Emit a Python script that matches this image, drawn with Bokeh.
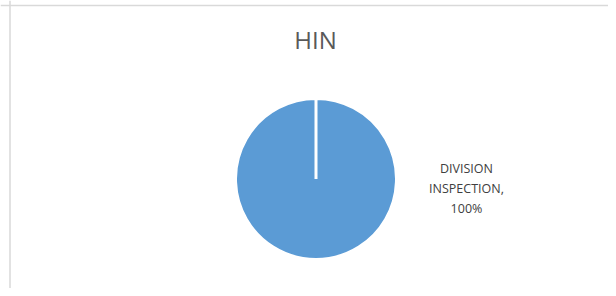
import math
from bokeh.plotting import figure
from bokeh.models import Range1d, Span, ColumnDataSource
from bokeh.core.properties import value
from bokeh.embed import file_html
from bokeh.resources import INLINE

# ---- data ----
title_text = "HIN"
categories = ["DIVISION INSPECTION"]
values = [100]

# ---- derived ----
total = sum(values)
fracs = [v / total for v in values]
starts, ends = [], []
a = math.pi / 2
for f in fracs:
    starts.append(a)
    sweep = 2 * math.pi * f
    if f >= 1:
        sweep -= 1e-4
    a = a - sweep
    ends.append(a)
labels = [c.replace(" ", "\n") + ",\n" + f"{round(f * 100)}%" for c, f in zip(categories, fracs)]

W, H = 608, 288
p = figure(width=W, height=H, output_backend="svg", toolbar_location=None,
           x_range=Range1d(0, W), y_range=Range1d(H, 0),
           min_border=0, outline_line_color=None)
p.axis.visible = False
p.grid.visible = False
p.background_fill_color = "white"
p.border_fill_color = "white"

# chart area frame (left and top edges visible)
p.add_layout(Span(location=9.5, dimension="height", line_color="#D9D9D9", line_width=1.5))
p.add_layout(Span(location=5, dimension="width", line_color="#D9D9D9", line_width=1.5))

cx, cy, r = 315.5, 178.5, 80.5
src = ColumnDataSource(dict(start=starts, end=ends, cat=categories))
p.wedge(x=cx, y=cy, radius=r, start_angle="start", end_angle="end", direction="clock",
        fill_color="#5B9BD5", line_color="white", line_width=3, source=src)

p.text(x=[315], y=[39], text=[title_text], text_align="center", text_baseline="middle",
       text_font=value("Open Sans"), text_font_size="24px", text_color="#595959")

p.text(x=[466], y=[188], text=labels, text_align="center", text_baseline="middle",
       text_font=value("Open Sans"), text_font_size="12.5px", text_color="#404040",
       text_line_height=1.18)

open("out.html", "w").write(file_html(p, INLINE))
